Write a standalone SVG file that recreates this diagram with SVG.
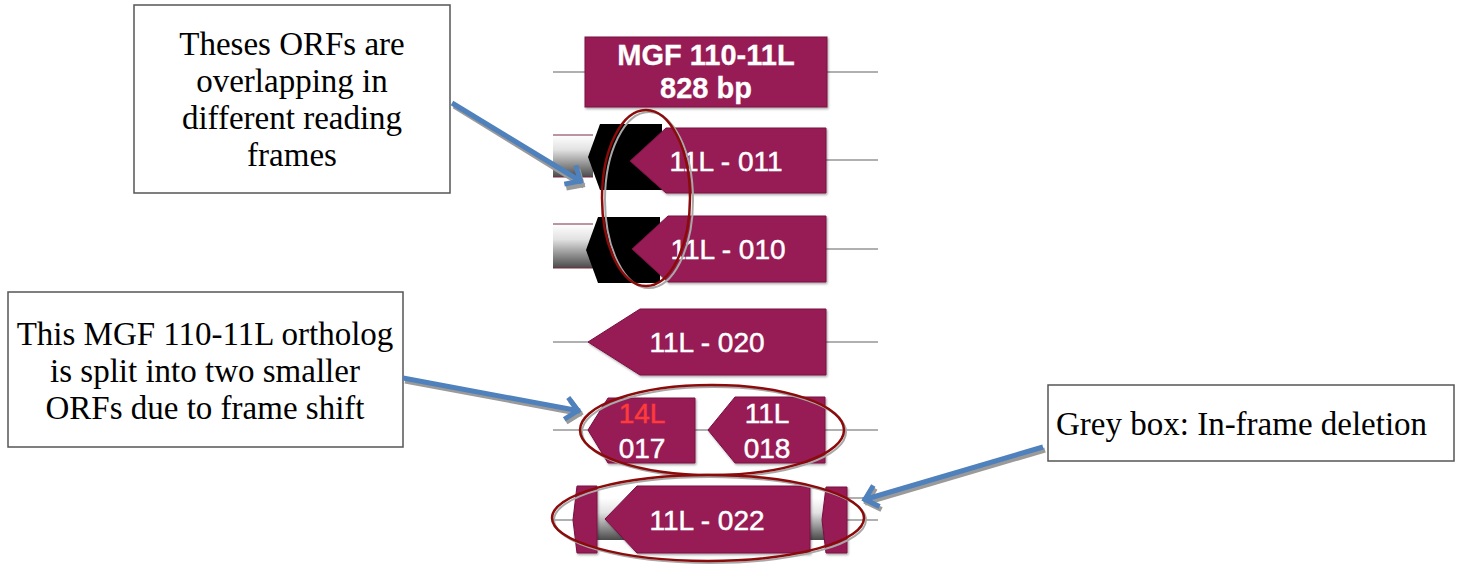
<svg xmlns="http://www.w3.org/2000/svg" width="1462" height="567" viewBox="0 0 1462 567">
<defs>
<style>
.track{stroke:#b0b0b0;stroke-width:2;fill:none}
.orf{fill:#971a55;stroke:#7a1242;stroke-width:1;filter:url(#sh)}
.blk{fill:#000}
.lbl{font-family:"Liberation Sans",Arial,sans-serif;font-size:28px;fill:#fff;stroke:#fff;stroke-width:0.5;text-anchor:middle}
.bold{font-weight:bold;font-size:29px;stroke-width:0.3}
.red{fill:#ff3a3a;stroke:#ff3a3a}
.note{fill:#fff;stroke:#555;stroke-width:1.5}
.ntxt{font-family:"Liberation Serif","Times New Roman",serif;font-size:33px;fill:#000}
.ring{fill:none;stroke:#8b0a0a;stroke-width:2.5}
.ringsh{fill:none;stroke:#a8a8a8;stroke-width:2}
.arr{stroke:#4f81bd;stroke-width:5;fill:none;marker-end:url(#hb)}
.arrsh{stroke:#9a9a9a;stroke-width:5;fill:none;marker-end:url(#hg)}
</style>
<linearGradient id="gbar" x1="0" y1="0" x2="0" y2="1">
<stop offset="0" stop-color="#ffffff"/>
<stop offset="0.35" stop-color="#e2e2e2"/>
<stop offset="1" stop-color="#4a4a4a"/>
</linearGradient>
<filter id="sh" x="-10%" y="-10%" width="130%" height="130%">
<feDropShadow dx="1" dy="1.5" stdDeviation="1" flood-color="#000" flood-opacity="0.35"/>
</filter>
<marker id="hb" markerUnits="userSpaceOnUse" markerWidth="30" markerHeight="30" refX="2" refY="0" viewBox="-20 -15 30 30" orient="auto">
<path d="M -12 -11 L 0 0 L -12 11" fill="none" stroke="#4f81bd" stroke-width="5"/>
</marker>
<marker id="hg" markerUnits="userSpaceOnUse" markerWidth="30" markerHeight="30" refX="2" refY="0" viewBox="-20 -15 30 30" orient="auto">
<path d="M -12 -11 L 0 0 L -12 11" fill="none" stroke="#9a9a9a" stroke-width="5"/>
</marker>
</defs>
<rect width="1462" height="567" fill="#fff"/>

<g id="tracks">
<line class="track" x1="553" y1="72" x2="878" y2="72"/>
<line class="track" x1="826" y1="160" x2="878" y2="160"/>
<line class="track" x1="826" y1="249" x2="878" y2="249"/>
<line class="track" x1="553" y1="342" x2="878" y2="342"/>
<line class="track" x1="553" y1="430" x2="878" y2="430"/>
<line class="track" x1="553" y1="520" x2="878" y2="520"/>
<line class="track" x1="847" y1="498" x2="878" y2="498" stroke-width="1.5"/>
</g>

<g id="orf-mgf110-11l">
<rect class="orf" x="585" y="37" width="242" height="70"/>
<text class="lbl bold" x="706" y="65">MGF 110-11L</text>
<text class="lbl bold" x="706" y="98">828 bp</text>
</g>

<g id="orf-11l-011">
<rect x="553" y="135" width="40" height="42" fill="url(#gbar)"/>
<line x1="553" y1="135" x2="593" y2="135" stroke="#7a2a40" stroke-width="1"/>
<line x1="553" y1="177" x2="593" y2="177" stroke="#7a2a40" stroke-width="1"/>
<polygon class="blk" points="600,124 662,124 662,190 600,190 588,157"/>
<polygon class="orf" points="666,128 826,128 826,193 666,193 630,161"/>
<text class="lbl" x="726" y="171">11L - 011</text>
</g>

<g id="orf-11l-010">
<rect x="553" y="224" width="40" height="44" fill="url(#gbar)"/>
<line x1="553" y1="224" x2="593" y2="224" stroke="#7a2a40" stroke-width="1"/>
<line x1="553" y1="268" x2="593" y2="268" stroke="#7a2a40" stroke-width="1"/>
<polygon class="blk" points="598,217 660,217 660,283 598,283 586,250"/>
<polygon class="orf" points="668,216 826,216 826,282 668,282 632,249"/>
<text class="lbl" x="728" y="259">11L - 010</text>
</g>

<g id="orf-11l-020">
<polygon class="orf" points="640,309 826,309 826,375 640,375 588,342"/>
<text class="lbl" x="707" y="352">11L - 020</text>
</g>

<g id="orf-14l-017">
<polygon class="orf" points="608,398 695,398 695,463 608,463 588,430"/>
<text class="lbl red" x="642" y="423">14L</text>
<text class="lbl" x="642" y="458">017</text>
</g>

<g id="orf-11l-018">
<polygon class="orf" points="735,397 825,397 825,463 735,463 708,430"/>
<text class="lbl" x="767" y="423">11L</text>
<text class="lbl" x="767" y="458">018</text>
</g>

<g id="orf-11l-022">
<rect x="597" y="498" width="229" height="42" fill="url(#gbar)"/>
<polygon class="orf" points="577,486 597,486 597,553 577,553 573,520"/>
<polygon class="orf" points="826,487 847,487 847,553 826,553 822,520"/>
<polygon class="orf" points="637,486 810,486 810,553 637,553 605,519"/>
<text class="lbl" x="707" y="530">11L - 022</text>
</g>

<g id="highlight-rings">
<ellipse class="ringsh" cx="649" cy="200" rx="44" ry="88"/>
<ellipse class="ring" cx="646" cy="198" rx="44" ry="88"/>
<ellipse class="ringsh" cx="714" cy="432" rx="132" ry="45"/>
<ellipse class="ring" cx="712" cy="430" rx="132" ry="45"/>
<ellipse class="ringsh" cx="710" cy="520" rx="156" ry="43"/>
<ellipse class="ring" cx="708" cy="518" rx="156" ry="43"/>
</g>

<g id="note-overlap">
<rect class="note" x="134" y="5" width="316" height="188"/>
<text class="ntxt" x="292" y="55" text-anchor="middle">Theses ORFs are</text>
<text class="ntxt" x="292" y="92" text-anchor="middle">overlapping in</text>
<text class="ntxt" x="292" y="129" text-anchor="middle">different reading</text>
<text class="ntxt" x="292" y="166" text-anchor="middle">frames</text>
</g>

<g id="note-split">
<rect class="note" x="8" y="292" width="395" height="155"/>
<text class="ntxt" x="205" y="345" text-anchor="middle">This MGF 110-11L ortholog</text>
<text class="ntxt" x="205" y="382" text-anchor="middle">is split into two smaller</text>
<text class="ntxt" x="205" y="419" text-anchor="middle">ORFs due to frame shift</text>
</g>

<g id="note-deletion">
<rect class="note" x="1048" y="385" width="406" height="76"/>
<text class="ntxt" x="1056" y="435">Grey box: In-frame deletion</text>
</g>

<g id="connectors">
<line class="arrsh" x1="454" y1="106" x2="584" y2="186"/>
<line class="arr" x1="452" y1="103" x2="582" y2="182"/>
<line class="arrsh" x1="405" y1="381" x2="582" y2="414"/>
<line class="arr" x1="403" y1="378" x2="580" y2="411"/>
<line class="arrsh" x1="1045" y1="450" x2="865" y2="503"/>
<line class="arr" x1="1043" y1="447" x2="863" y2="500"/>
</g>
</svg>
